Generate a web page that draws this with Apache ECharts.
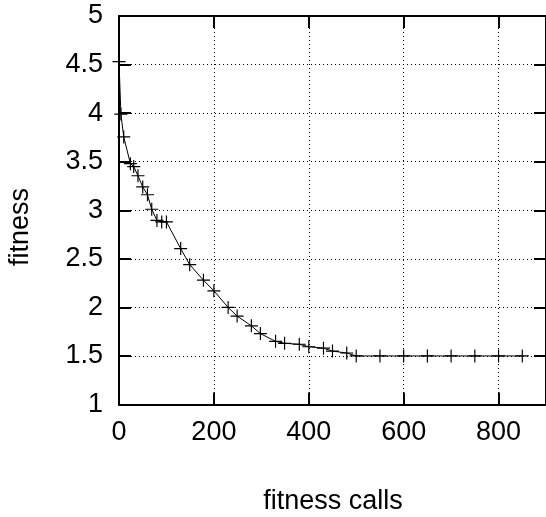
<!DOCTYPE html>
<html>
<head>
<meta charset="utf-8">
<script src="https://cdn.jsdelivr.net/npm/echarts@6/dist/echarts.min.js"></script>
<style>
html,body{margin:0;padding:0;background:#fff;}
#chart{width:546px;height:517px;}
</style>
</head>
<body>
<div id="chart"></div>
<script>
var calls = [0, 4, 10, 24, 31, 40, 50, 60, 69, 80, 90, 100, 130, 149, 178, 200, 230, 249, 279, 298, 330, 349, 380, 400, 431, 450, 480, 500, 550, 600, 650, 700, 750, 800, 850];
var fitness = [4.53, 3.99, 3.755, 3.48, 3.45, 3.355, 3.24, 3.16, 3.01, 2.895, 2.88, 2.88, 2.605, 2.44, 2.28, 2.17, 2.0, 1.91, 1.81, 1.73, 1.65, 1.63, 1.62, 1.595, 1.58, 1.55, 1.53, 1.5, 1.5, 1.5, 1.5, 1.5, 1.5, 1.5, 1.5];
var xTitle = 'fitness calls';
var yTitle = 'fitness';

var FONT = '"Liberation Sans", Arial, Helvetica, sans-serif';
var data = calls.map(function (c, i) { return [c, fitness[i]]; });

var chart = echarts.init(document.getElementById('chart'), null, {renderer: 'canvas'});

var dotted = {show: true, lineStyle: {color: '#000', width: 1, type: [1, 3]}};
var axLine = {show: true, onZero: false, lineStyle: {color: '#000', width: 2}};
var tick = {show: true, inside: true, length: 12, lineStyle: {color: '#000', width: 2}};

chart.setOption({
  animation: false,
  backgroundColor: '#fff',
  grid: {left: 119, top: 16, width: 428, height: 388.5, containLabel: false},
  xAxis: [
    {
      type: 'value', position: 'bottom', min: 0, max: 900, interval: 200,
      axisLine: axLine, axisTick: tick, splitLine: dotted,
      axisLabel: {show: true, fontSize: 27, color: '#000', fontFamily: FONT, margin: 15, showMaxLabel: false}
    },
    {
      type: 'value', position: 'top', min: 0, max: 900, interval: 200,
      axisLine: axLine, axisTick: tick, splitLine: {show: false},
      axisLabel: {show: false}
    }
  ],
  yAxis: [
    {
      type: 'value', position: 'left', min: 1, max: 5, interval: 0.5,
      axisLine: axLine, axisTick: tick, splitLine: dotted,
      axisLabel: {show: true, fontSize: 27, color: '#000', fontFamily: FONT, margin: 16}
    },
    {
      type: 'value', position: 'right', min: 1, max: 5, interval: 0.5,
      axisLine: axLine, axisTick: tick, splitLine: {show: false},
      axisLabel: {show: false}
    }
  ],
  graphic: [
    {
      type: 'text', x: 21, y: 227, rotation: Math.PI / 2,
      style: {text: yTitle, fontSize: 27, fontFamily: FONT, fill: '#000', align: 'center', verticalAlign: 'middle'}
    },
    {
      type: 'text', x: 333, y: 502,
      style: {text: xTitle, fontSize: 27, fontFamily: FONT, fill: '#000', align: 'center', verticalAlign: 'middle'}
    }
  ],
  series: [
    {
      type: 'line',
      xAxisIndex: 0, yAxisIndex: 0,
      data: data,
      symbol: 'path://M0,4.55h10v0.9h-10z M4.55,0h0.9v10h-0.9z',
      symbolSize: 13,
      showSymbol: true,
      showAllSymbol: true,
      lineStyle: {color: '#000', width: 1},
      itemStyle: {color: '#000'},
      emphasis: {disabled: true},
      clip: false,
      z: 5
    }
  ]
});
</script>
</body>
</html>
